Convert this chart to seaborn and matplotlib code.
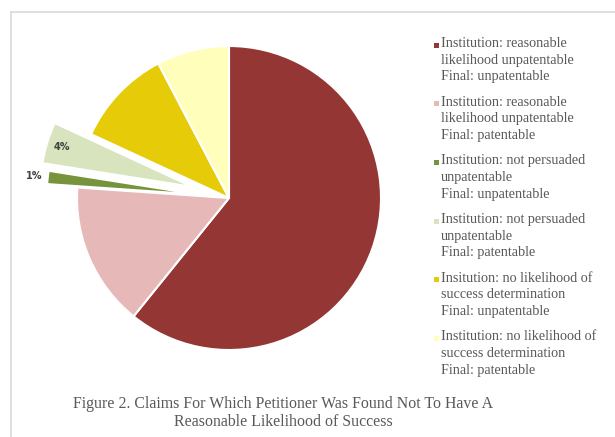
import matplotlib
matplotlib.use("Agg")
import matplotlib.pyplot as plt
from matplotlib.patches import Rectangle
from matplotlib.lines import Line2D
import numpy as np
import seaborn as sns

# ---- data ----
categories = [
    "Institution: reasonable\nlikelihood unpatentable\nFinal: unpatentable",
    "Institution: reasonable\nlikelihood unpatentable\nFinal: patentable",
    "Institution: not persuaded\nunpatentable\nFinal: unpatentable",
    "Institution: not persuaded\nunpatentable\nFinal: patentable",
    "Insitution: no likelihood of\nsuccess determination\nFinal: unpatentable",
    "Institution: no likelihood of\nsuccess determination\nFinal: patentable",
]
shares = [60.8, 15.3, 1.4, 4.4, 10.4, 7.7]
labelled = [False, False, True, True, False, False]
colors = ["#943634", "#E6B9B8", "#77933C", "#D7E4BD", "#E6CB08", "#FFFFBB"]
explode = [0, 0, 0.2, 0.25, 0, 0]
title = "Figure 2. Claims For Which Petitioner Was Found Not To Have A\nReasonable Likelihood of Success"

sns.set_theme(style="white")
plt.rcParams["font.family"] = ["Liberation Serif", "DejaVu Serif"]

W, H = 615, 437
fig = plt.figure(figsize=(W / 100, H / 100), dpi=100)
fig.patch.set_facecolor("white")

# pie axes: whole figure, 1 data unit = R px
cx, cy, R = 229, 198, 152
ax = fig.add_axes([0, 0, 1, 1])
wedges, _ = ax.pie(shares, colors=colors, explode=explode, startangle=90,
                   counterclock=False,
                   wedgeprops=dict(edgecolor="white", linewidth=1.5))
ax.set_xlim(-cx / R, (W - cx) / R)
ax.set_ylim(-(H - cy) / R, cy / R)
ax.set_aspect("auto")
ax.axis("off")

# percentage labels for the two small exploded slices
label_r = {2: (1.09, "center"), 3: (0.9, "center")}
for i, w in enumerate(wedges):
    if not labelled[i]:
        continue
    th = np.deg2rad((w.theta1 + w.theta2) / 2)
    r, ha = label_r[i]
    x = w.center[0] + r * np.cos(th)
    y = w.center[1] + r * np.sin(th)
    ax.text(x, y, f"{round(shares[i])}%", ha=ha, va="center", fontsize=7,
            fontweight="bold", color="#404040", family="DejaVu Sans")

# legend (manual, markers aligned to first line)
tc = "#595959"
for i, (lab, col) in enumerate(zip(categories, colors)):
    y0 = 45 + i * 58.7
    fig.add_artist(Rectangle((434 / W, 1 - (y0 + 2.5) / H), 5 / W, 5 / H,
                             transform=fig.transFigure, facecolor=col,
                             edgecolor="none"))
    fig.text(441 / W, 1 - (y0 - 8) / H, lab, ha="left", va="top",
             fontsize=10.2, color=tc, linespacing=1.36)

# caption
fig.text(283.5 / W, 1 - 413 / H, title, ha="center", va="center",
         fontsize=11.4, color=tc, linespacing=1.1, multialignment="center")

# frame lines
fig.add_artist(Line2D([11 / W, 11 / W], [0, 1 - 12 / H], transform=fig.transFigure,
                      color="#D9D9D9", linewidth=1.2))
fig.add_artist(Line2D([11 / W, 1], [1 - 12 / H, 1 - 12 / H], transform=fig.transFigure,
                      color="#D9D9D9", linewidth=1.2))

fig.savefig("out.png", dpi=100, facecolor="white")
